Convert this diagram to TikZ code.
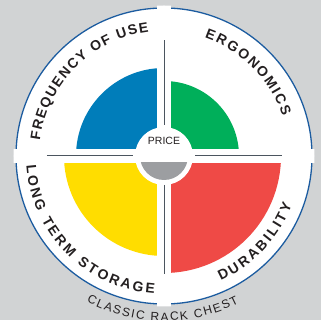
\documentclass[tikz,border=0pt]{standalone}
\usepackage{fontspec}
\setmainfont{Liberation Sans}
\usetikzlibrary{decorations.text}
\definecolor{bggray}{RGB}{209,211,212}
\definecolor{ringblue}{RGB}{28,92,160}
\definecolor{qblue}{RGB}{0,125,186}
\definecolor{qgreen}{RGB}{0,175,90}
\definecolor{qyellow}{RGB}{255,221,0}
\definecolor{qred}{RGB}{239,74,70}
\definecolor{lineslate}{RGB}{75,85,95}
\definecolor{pricegray}{RGB}{156,158,161}
\definecolor{textdark}{RGB}{35,31,32}
\tikzset{
  divider/.style={draw=lineslate, line width=1pt},
  labelarc/.style={decorate, decoration={text along path, text align={fit to path},
      text color=textdark,
      text={|\bfseries\fontsize{14}{14}\selectfont|#1}}},
  captionarc/.style={decorate, decoration={text along path, text align={fit to path},
      text color=textdark,
      text={|\fontsize{12}{12}\selectfont|#1}}}
}
\begin{document}
\begin{tikzpicture}[x=1pt,y=1pt]
\useasboundingbox (-164,-164) rectangle (157,156);
\fill[bggray] (-164,-164) rectangle (157,156);
% disc and ring
\fill[white] (0,0) circle[radius=148];
\draw[ringblue, line width=1.3pt] (0,0) circle[radius=148];
% quarters
\fill[qblue] (0,0) -- (180:88) arc[start angle=180,end angle=90,radius=88] -- cycle;
\fill[qgreen] (0,0) -- (90:75) arc[start angle=90,end angle=0,radius=75] -- cycle;
\fill[qyellow] (0,0) -- (180:100) arc[start angle=180,end angle=270,radius=100] -- cycle;
\fill[qred] (0,0) -- (270:117) arc[start angle=270,end angle=360,radius=117] -- cycle;
% white cross bands
\begin{scope}
  \clip (0,0) circle[radius=150.5];
  \fill[white] (-7,-152) rectangle (7,152);
  \fill[white] (-152,-7) rectangle (152,7);
\end{scope}
% centre
\fill[white] (0,0) circle[radius=29];
\begin{scope}
  \clip (-30,-7) rectangle (30,-30);
  \fill[pricegray] (0,0) circle[radius=24];
\end{scope}
% divider lines
\coordinate (hl1) at (-117,0); \coordinate (hl2) at (-31,0);
\coordinate (hr1) at (31,0);   \coordinate (hr2) at (118,0);
\coordinate (vt1) at (0,31);   \coordinate (vt2) at (0,116);
\coordinate (vb1) at (0,-29);  \coordinate (vb2) at (0,-118);
\draw[divider] (hl1) -- (hl2);
\draw[divider] (hr1) -- (hr2);
\draw[divider] (vt1) -- (vt2);
\draw[divider] (vb1) -- (vb2);
\node[font=\fontsize{10.5}{10.5}\selectfont, text=textdark, inner sep=0] (price) at (0,15) {PRICE};
% curved labels
\path[labelarc={FREQUENCY OF USE}] (173:125) arc[start angle=173,end angle=97,radius=125];
\path[labelarc={ERGONOMICS}] (71:125) arc[start angle=71,end angle=18.5,radius=125];
\path[labelarc={LONG TERM STORAGE}] (184:138) arc[start angle=184,end angle=266,radius=138];
\path[labelarc={DURABILITY}] (294.5:137) arc[start angle=294.5,end angle=339,radius=137];
\path[captionarc={CLASSIC RACK CHEST}] (242:165) arc[start angle=242,end angle=297,radius=165];
\end{tikzpicture}
\end{document}
